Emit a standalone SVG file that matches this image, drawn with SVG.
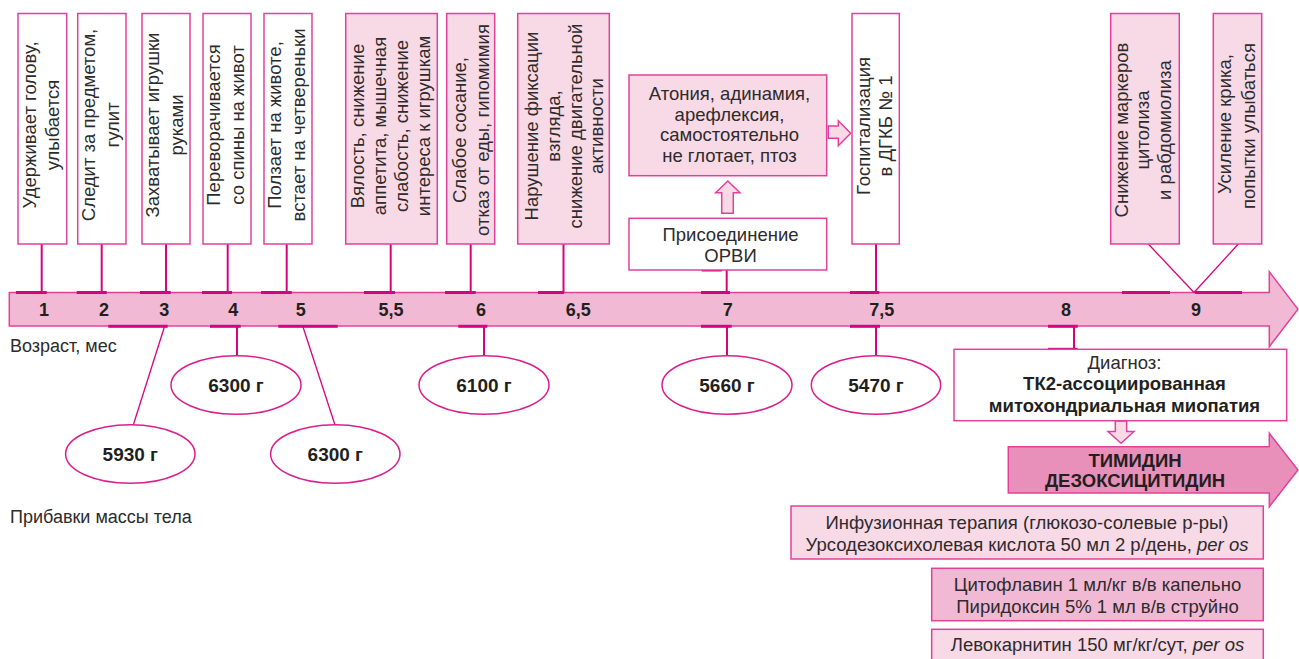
<svg xmlns="http://www.w3.org/2000/svg" width="1299" height="659" viewBox="0 0 1299 659">
<defs>
<style>
.box{fill:#ffffff;stroke:#e2419b;stroke-width:1.5}
.pbox{fill:#f8d9e6;stroke:#e2419b;stroke-width:1.5}
.mbox{fill:#f1b9d3;stroke:#e2419b;stroke-width:1.5}
.ell{fill:#ffffff;stroke:#dc1f8c;stroke-width:1.5}
.t{font-family:"Liberation Sans",Arial,sans-serif;font-size:18.5px;fill:#2d2b2c;text-anchor:middle}
.s{font-family:"Liberation Sans",Arial,sans-serif;font-size:18px;fill:#2d2b2c}
.b{font-weight:bold;fill:#231f20}
.n{font-family:"Liberation Sans",Arial,sans-serif;font-size:18px;font-weight:bold;fill:#231f20;text-anchor:middle}
.e{font-family:"Liberation Sans",Arial,sans-serif;font-size:19px;font-weight:bold;fill:#231f20;text-anchor:middle}
.c{stroke:#d6037e;stroke-width:2;fill:none}
.d{stroke:#d6037e;stroke-width:1.3;fill:none}
.tk{fill:#d6037e}
.ar{fill:#f8d9e6;stroke:#e2419b;stroke-width:1.5}
</style>
</defs>
<rect width="1299" height="659" fill="#ffffff"/>

<!-- timeline -->
<g id="timeline">
<polygon points="9.3,292.5 1269.3,292.5 1269.3,271.7 1298,309.2 1269.3,346.7 1269.3,326 9.3,326" fill="#f1b9d3" stroke="#e2419b" stroke-width="1.5"/>
<g class="tk">
<rect x="16" y="291" width="30.7" height="3"/><rect x="76.7" y="291" width="30" height="3"/><rect x="140" y="291" width="30.7" height="3"/><rect x="202" y="291" width="30" height="3"/><rect x="261" y="291" width="30.7" height="3"/><rect x="364" y="291" width="31" height="3"/><rect x="445" y="291" width="30.7" height="3"/><rect x="538" y="291" width="26" height="3"/><rect x="701" y="291" width="29" height="3"/><rect x="850" y="291" width="29.3" height="3"/><rect x="1122" y="291" width="48" height="3"/><rect x="1195" y="291" width="47" height="3"/>
<rect x="108.3" y="324.8" width="59.4" height="3"/><rect x="210" y="324.8" width="30.7" height="3"/><rect x="278.3" y="324.8" width="59.4" height="3"/><rect x="458.3" y="324.8" width="29" height="3"/><rect x="701" y="324.8" width="30.7" height="3"/><rect x="850" y="324.8" width="30" height="3"/><rect x="1048" y="324.8" width="29.7" height="3"/>
</g>
<text class="n" x="44" y="316">1</text>
<text class="n" x="104" y="316">2</text>
<text class="n" x="164.3" y="316">3</text>
<text class="n" x="233.3" y="316">4</text>
<text class="n" x="300.7" y="316">5</text>
<text class="n" x="391" y="316">5,5</text>
<text class="n" x="481" y="316">6</text>
<text class="n" x="578.3" y="316">6,5</text>
<text class="n" x="727.7" y="316">7</text>
<text class="n" x="881.7" y="316">7,5</text>
<text class="n" x="1066" y="316">8</text>
<text class="n" x="1196" y="316">9</text>
</g>
<text class="s" x="10" y="352">Возраст, мес</text>
<text class="s" x="10" y="523">Прибавки массы тела</text>

<!-- connectors -->
<g id="connectors">
<line class="c" x1="41.7" y1="244" x2="41.7" y2="292.5"/>
<line class="c" x1="101.7" y1="244" x2="101.7" y2="292.5"/>
<line class="c" x1="166" y1="244" x2="166" y2="292.5"/>
<line class="c" x1="227.7" y1="244" x2="227.7" y2="292.5"/>
<line class="c" x1="286.7" y1="244" x2="286.7" y2="292.5"/>
<line class="c" x1="390.7" y1="244" x2="390.7" y2="292.5"/>
<line class="c" x1="470.7" y1="244" x2="470.7" y2="292.5"/>
<line class="c" x1="563.5" y1="244" x2="563.5" y2="292.5"/>
<line class="c" x1="726.7" y1="270" x2="726.7" y2="292.5"/>
<line class="c" x1="876" y1="244" x2="876" y2="292.5"/>
<line class="d" x1="1148.3" y1="244" x2="1194" y2="292.5"/>
<line class="d" x1="1238.3" y1="244" x2="1194" y2="292.5"/>
<line class="d" x1="164.7" y1="326" x2="133.3" y2="425"/>
<line class="d" x1="302.7" y1="326" x2="335" y2="425"/>
<line class="c" x1="237" y1="326" x2="237" y2="356"/>
<line class="c" x1="484" y1="326" x2="484" y2="356"/>
<line class="c" x1="727" y1="326" x2="727" y2="356"/>
<line class="c" x1="876" y1="326" x2="876" y2="356"/>
<line class="c" x1="1074" y1="326" x2="1074" y2="349.3"/>
<rect class="tk" x="701.7" y="268.5" width="20" height="3"/>
<rect class="tk" x="1048" y="347.8" width="29.7" height="3"/>
<polygon class="ar" points="721.7,213.3 733.3,213.3 733.3,192.7 740,192.7 727.8,181 715.7,192.7 721.7,192.7"/>
<polygon class="ar" points="828.3,126 838.3,126 838.3,120.7 850.7,133.2 838.3,145.7 838.3,138.3 828.3,138.3"/>
<polygon class="ar" points="1115.3,421 1126.7,421 1126.7,431.5 1134,431.5 1121,443.3 1108,431.5 1115.3,431.5"/>
</g>

<!-- top boxes -->
<g id="m1"><rect class="box" x="18" y="13.5" width="48.7" height="230.5"/>
<text class="t" transform="translate(35.5,125) rotate(-90)">Удерживает голову,</text>
<text class="t" transform="translate(59,125) rotate(-90)">улыбается</text></g>
<g id="m2"><rect class="box" x="77.7" y="13.5" width="48.3" height="230.5"/>
<text class="t" transform="translate(95,125) rotate(-90)">Следит за предметом,</text>
<text class="t" transform="translate(118.6,125) rotate(-90)">гулит</text></g>
<g id="m3"><rect class="box" x="142" y="13.5" width="48" height="230.5"/>
<text class="t" transform="translate(159.3,125) rotate(-90)">Захватывает игрушки</text>
<text class="t" transform="translate(182.8,125) rotate(-90)">руками</text></g>
<g id="m4"><rect class="box" x="203" y="13.5" width="48" height="230.5"/>
<text class="t" transform="translate(220.3,125) rotate(-90)">Переворачивается</text>
<text class="t" transform="translate(243.8,125) rotate(-90)">со спины на живот</text></g>
<g id="m5"><rect class="box" x="264" y="13.5" width="48" height="230.5"/>
<text class="t" transform="translate(281.3,125) rotate(-90)">Ползает на животе,</text>
<text class="t" transform="translate(304.8,125) rotate(-90)">встает на четвереньки</text></g>
<g id="m55"><rect class="pbox" x="345.7" y="13.5" width="91.6" height="230.5"/>
<text class="t" transform="translate(364.3,126) rotate(-90)">Вялость, снижение</text>
<text class="t" transform="translate(386,126) rotate(-90)">аппетита, мышечная</text>
<text class="t" transform="translate(407.7,126) rotate(-90)">слабость, снижение</text>
<text class="t" transform="translate(430,126) rotate(-90)">интереса к игрушкам</text></g>
<g id="m6"><rect class="pbox" x="446.7" y="13.5" width="48" height="230.5"/>
<text class="t" transform="translate(466,130) rotate(-90)">Слабое сосание,</text>
<text class="t" transform="translate(488.5,130) rotate(-90)">отказ от еды, гипомимия</text></g>
<g id="m65"><rect class="pbox" x="517.7" y="13.5" width="91.6" height="230.5"/>
<text class="t" transform="translate(537.5,126) rotate(-90)">Нарушение фиксации</text>
<text class="t" transform="translate(559.5,126) rotate(-90)">взгляда,</text>
<text class="t" transform="translate(581.5,126) rotate(-90)">снижение двигательной</text>
<text class="t" transform="translate(603,126) rotate(-90)">активности</text></g>
<g id="atonia"><rect class="pbox" x="629" y="75" width="197.7" height="100.7"/>
<text class="t" x="729.5" y="100">Атония, адинамия,</text>
<text class="t" x="729.5" y="120.7">арефлексия,</text>
<text class="t" x="729.5" y="141.3">самостоятельно</text>
<text class="t" x="729.5" y="162">не глотает, птоз</text></g>
<g id="orvi"><rect class="box" x="629" y="218.3" width="197.7" height="51.7"/>
<text class="t" x="730.5" y="240.7">Присоединение</text>
<text class="t" x="730.5" y="261.7">ОРВИ</text></g>
<g id="hosp"><rect class="box" x="852" y="13.5" width="47.3" height="230.5"/>
<text class="t" transform="translate(869.5,126) rotate(-90)">Госпитализация</text>
<text class="t" transform="translate(891.5,126) rotate(-90)">в ДГКБ № 1</text></g>
<g id="markers"><rect class="pbox" x="1110.7" y="13.5" width="68.6" height="230.5"/>
<text class="t" transform="translate(1127.7,130) rotate(-90)">Снижение маркеров</text>
<text class="t" transform="translate(1149.3,130) rotate(-90)">цитолиза</text>
<text class="t" transform="translate(1171,130) rotate(-90)">и рабдомиолиза</text></g>
<g id="cry"><rect class="pbox" x="1213.3" y="13.5" width="48.4" height="230.5"/>
<text class="t" transform="translate(1231,124) rotate(-90)">Усиление крика,</text>
<text class="t" transform="translate(1255,126) rotate(-90)">попытки улыбаться</text></g>

<!-- weights -->
<g id="w3"><ellipse class="ell" cx="130.3" cy="454" rx="64.7" ry="29.3"/><text class="e" x="130.3" y="461">5930 г</text></g>
<g id="w4"><ellipse class="ell" cx="236" cy="385" rx="65" ry="29.3"/><text class="e" x="236" y="392">6300 г</text></g>
<g id="w5"><ellipse class="ell" cx="335.3" cy="454" rx="64.7" ry="29.3"/><text class="e" x="335.3" y="461">6300 г</text></g>
<g id="w6"><ellipse class="ell" cx="484" cy="385" rx="65" ry="29.3"/><text class="e" x="484" y="392">6100 г</text></g>
<g id="w7"><ellipse class="ell" cx="727" cy="385" rx="65" ry="29.3"/><text class="e" x="727" y="392">5660 г</text></g>
<g id="w75"><ellipse class="ell" cx="876" cy="385" rx="64.7" ry="29.3"/><text class="e" x="876" y="392">5470 г</text></g>

<!-- diagnosis -->
<g id="diagnosis"><rect class="box" x="954" y="349.3" width="332.7" height="71.4"/>
<text class="t" x="1124.5" y="369.3">Диагноз:</text>
<text class="t b" x="1124.5" y="389.5">ТК2-ассоциированная</text>
<text class="t b" x="1124.5" y="411.7">митохондриальная миопатия</text></g>

<g id="therapy"><polygon points="1008.3,446.7 1269.3,446.7 1269.3,433.3 1298,470 1269.3,506.7 1269.3,493 1008.3,493" fill="#e890ba" stroke="#e2419b" stroke-width="1.5"/>
<text class="t b" x="1135" y="466.7">ТИМИДИН</text>
<text class="t b" x="1135" y="487.3">ДЕЗОКСИЦИТИДИН</text></g>

<g id="rx1"><rect class="pbox" x="791" y="506" width="472.3" height="53"/>
<text class="t" x="1027" y="528.8">Инфузионная терапия (глюкозо-солевые р-ры)</text>
<text class="t" x="1027" y="551.2">Урсодезоксихолевая кислота 50 мл 2 р/день, <tspan font-style="italic">per os</tspan></text></g>
<g id="rx2"><rect class="mbox" x="931.7" y="568.3" width="331.6" height="52.4"/>
<text class="t" x="1097.5" y="590.5">Цитофлавин 1 мл/кг в/в капельно</text>
<text class="t" x="1097.5" y="612.8">Пиридоксин 5% 1 мл в/в струйно</text></g>
<g id="rx3"><rect class="pbox" x="931.7" y="629.3" width="331.6" height="40"/>
<text class="t" x="1097.5" y="651.3">Левокарнитин 150 мг/кг/сут, <tspan font-style="italic">per os</tspan></text></g>
</svg>
